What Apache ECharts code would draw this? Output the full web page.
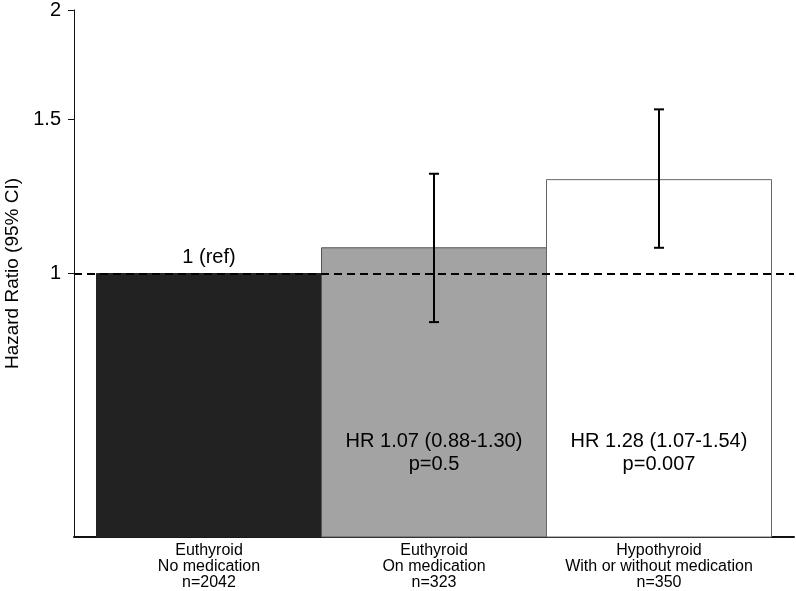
<!DOCTYPE html>
<html>
<head>
<meta charset="utf-8">
<script src="https://cdn.jsdelivr.net/npm/echarts@6/dist/echarts.min.js"></script>
<style>
  html, body { margin: 0; padding: 0; background: #fff; }
  #chart { width: 796px; height: 591px; }
</style>
</head>
<body>
<div id="chart"></div>
<script>
const categories = [
  "Euthyroid\nNo medication\nn=2042",
  "Euthyroid\nOn medication\nn=323",
  "Hypothyroid\nWith or without medication\nn=350"
];
const hazardRatio = [1.0, 1.07, 1.28];
const ciLow = [null, 0.88, 1.07];
const ciHigh = [null, 1.30, 1.54];
const barLabels = ["1 (ref)", "HR 1.07 (0.88-1.30)\np=0.5", "HR 1.28 (1.07-1.54)\np=0.007"];
const yTicks = [1, 1.5, 2];
const refValue = 1;

const Y_MIN = 0.5;
const Y_MAX = 2;
const FONT = "'Liberation Sans', Arial, sans-serif";
const barFill = ["#222222", "#a3a3a3", "#ffffff"];
const barStroke = ["#222222", "#555555", "#666666"];

const chart = echarts.init(document.getElementById("chart"));

const option = {
  animation: false,
  grid: {
    left: 74,
    right: 2,
    top: 10,
    bottom: 54,
    outerBoundsMode: "none"
  },
  xAxis: {
    type: "value",
    min: -0.6,
    max: 2.6,
    splitLine: { show: false },
    axisTick: { show: false },
    axisLine: { onZero: false, lineStyle: { color: "#111", width: 2 } },
    axisLabel: {
      customValues: [0, 1, 2],
      formatter: function(v) {
        return categories[Math.round(v)] || "";
      },
      color: "#000",
      fontFamily: FONT,
      fontSize: 16,
      lineHeight: 16,
      margin: 6
    }
  },
  yAxis: {
    type: "log",
    logBase: 10,
    min: Y_MIN,
    max: Y_MAX,
    name: "Hazard Ratio (95% CI)",
    nameLocation: "middle",
    nameGap: 52,
    nameTextStyle: { color: "#000", fontFamily: FONT, fontSize: 19 },
    splitLine: { show: false },
    axisLine: { show: true, onZero: false, lineStyle: { color: "#111", width: 1 } },
    axisTick: { show: true, length: 6, customValues: yTicks, lineStyle: { color: "#111" } },
    axisLabel: {
      customValues: yTicks,
      color: "#000",
      fontFamily: FONT,
      fontSize: 20,
      margin: 13
    }
  },
  series: [
    {
      // reference line at HR = 1
      type: "line",
      data: [],
      z: 1,
      markLine: {
        silent: true,
        symbol: "none",
        label: { show: false },
        lineStyle: { color: "#000", type: [8, 5], width: 2 },
        data: [{ yAxis: refValue }]
      }
    },
    {
      type: "custom",
      z: 2,
      data: hazardRatio.map((v, i) => [i, v]),
      renderItem: function(params, api) {
        const i = params.dataIndex;
        const x = api.value(0);
        const top = api.coord([x, api.value(1)]);
        const base = api.coord([x, Y_MIN]);
        const w = api.size([1, 1])[0];
        const rect = {
          type: "rect",
          shape: { x: top[0] - w / 2, y: top[1], width: w, height: base[1] - top[1] },
          style: { fill: barFill[i], stroke: barStroke[i], lineWidth: 1 }
        };
        const isRef = ciLow[i] == null;
        const text = {
          type: "text",
          z2: 10,
          style: {
            text: barLabels[i],
            x: top[0],
            y: isRef ? top[1] - 5 : base[1] - 84,
            align: "center",
            verticalAlign: isRef ? "bottom" : "middle",
            fill: "#000",
            font: "20px " + FONT,
            lineHeight: 23
          }
        };
        return { type: "group", children: [rect, text] };
      }
    },
    {
      // 95% CI whiskers
      type: "custom",
      z: 3,
      data: hazardRatio.map((v, i) => [i, ciLow[i], ciHigh[i]]).filter(d => d[1] != null),
      renderItem: function(params, api) {
        const x = api.value(0);
        const lo = api.coord([x, api.value(1)]);
        const hi = api.coord([x, api.value(2)]);
        const cap = 5;
        const ls = { stroke: "#000", lineWidth: 2 };
        return {
          type: "group",
          children: [
            { type: "line", shape: { x1: lo[0], y1: lo[1], x2: hi[0], y2: hi[1] }, style: ls },
            { type: "line", shape: { x1: lo[0] - cap, y1: lo[1], x2: lo[0] + cap, y2: lo[1] }, style: ls },
            { type: "line", shape: { x1: hi[0] - cap, y1: hi[1], x2: hi[0] + cap, y2: hi[1] }, style: ls }
          ]
        };
      }
    }
  ]
};

chart.setOption(option);
</script>
</body>
</html>
